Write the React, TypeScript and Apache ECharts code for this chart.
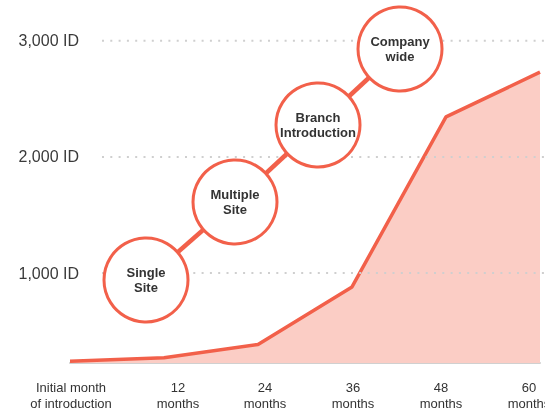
import React, { useEffect, useRef } from "react";
import * as echarts from "echarts";

// Adoption stages over time
const categories = [
  "Initial month\nof introduction",
  "12\nmonths",
  "24\nmonths",
  "36\nmonths",
  "48\nmonths",
  "60\nmonths",
];
const idCounts = [240, 270, 385, 880, 2345, 2730];
const yTicks = [1000, 2000, 3000];
const stageNames = ["Single\nSite", "Multiple\nSite", "Branch\nIntroduction", "Company\nwide"];
// Label nudges (left, right padding) for the category texts
const labelNudge: [number, number][] = [
  [2, 0],
  [28, 0],
  [14, 0],
  [2, 0],
  [0, 10],
  [0, 22],
];

const ACCENT = "#f2604a";
const FILL = "#fbcdc5";
const TEXT = "#333333";
const FONT = "'Liberation Sans', Arial, sans-serif";

// Stage bubble centres
const bubbles: [number, number][] = [
  [146, 280],
  [235, 202],
  [318, 125],
  [400, 49],
];
const R = 42;

export default function App() {
  const ref = useRef<HTMLDivElement>(null);

  useEffect(() => {
    if (!ref.current) return;
    const chart = echarts.init(ref.current, undefined, { renderer: "svg" });

    chart.setOption({
      animation: false,
      grid: {
        left: 70,
        right: 5,
        top: 6,
        bottom: 46,
        containLabel: false,
        outerBoundsMode: "none",
      },
      xAxis: {
        type: "category",
        boundaryGap: false,
        data: categories.map((c, i) => ({
          value: c,
          textStyle: { padding: [0, labelNudge[i][1], 0, labelNudge[i][0]] },
        })),
        axisLine: { show: true, lineStyle: { color: "#d0d0d0", width: 2 } },
        axisTick: { show: false },
        axisLabel: {
          interval: 0,
          margin: 16,
          fontFamily: FONT,
          fontSize: 13,
          lineHeight: 16,
          color: TEXT,
          hideOverlap: false,
        },
        splitLine: { show: false },
      },
      yAxis: {
        type: "value",
        min: 225,
        max: 3300,
        offset: -9,
        axisLine: { show: false },
        axisTick: { show: false },
        splitLine: { show: false },
        axisLabel: {
          customValues: yTicks,
          margin: 0,
          fontFamily: FONT,
          fontSize: 16,
          color: "#3a3a3a",
          formatter: (v: number) => v.toLocaleString("en-US") + " ID",
        },
      },
      series: [
        {
          type: "line",
          data: idCounts,
          symbol: "none",
          lineStyle: { color: ACCENT, width: 3.5 },
          areaStyle: { color: FILL, opacity: 1 },
          z: 2,
        },
      ],
    });

    // Dotted guide lines at the labelled values
    const guides = yTicks.map((v) => {
      const y = chart.convertToPixel({ yAxisIndex: 0 }, v) as number;
      return {
        type: "line",
        z: 5,
        shape: { x1: 102, y1: y, x2: 545, y2: y },
        style: { stroke: "#cfcfcf", lineWidth: 2, lineDash: [2, 6.3] },
        silent: true,
      };
    });

    const connectors = bubbles.slice(0, -1).map((b, i) => ({
      type: "line",
      z: 8,
      shape: { x1: b[0], y1: b[1], x2: bubbles[i + 1][0], y2: bubbles[i + 1][1] },
      style: { stroke: ACCENT, lineWidth: 4.5 },
      silent: true,
    }));

    const circles = bubbles.map((b) => ({
      type: "circle",
      z: 10,
      shape: { cx: b[0], cy: b[1], r: R },
      style: { fill: "#ffffff", stroke: ACCENT, lineWidth: 3 },
      silent: true,
    }));

    const labels = bubbles.map((b, i) => ({
      type: "text",
      z: 11,
      x: b[0],
      y: b[1],
      style: {
        text: stageNames[i],
        fill: TEXT,
        font: `bold 13px ${FONT}`,
        lineHeight: 15,
        align: "center",
        verticalAlign: "middle",
      },
      silent: true,
    }));

    chart.setOption({ graphic: [...guides, ...connectors, ...circles, ...labels] });

    return () => chart.dispose();
  }, []);

  return (
    <div
      ref={ref}
      style={{ position: "fixed", left: 0, top: 0, width: 545, height: 409 }}
    />
  );
}
